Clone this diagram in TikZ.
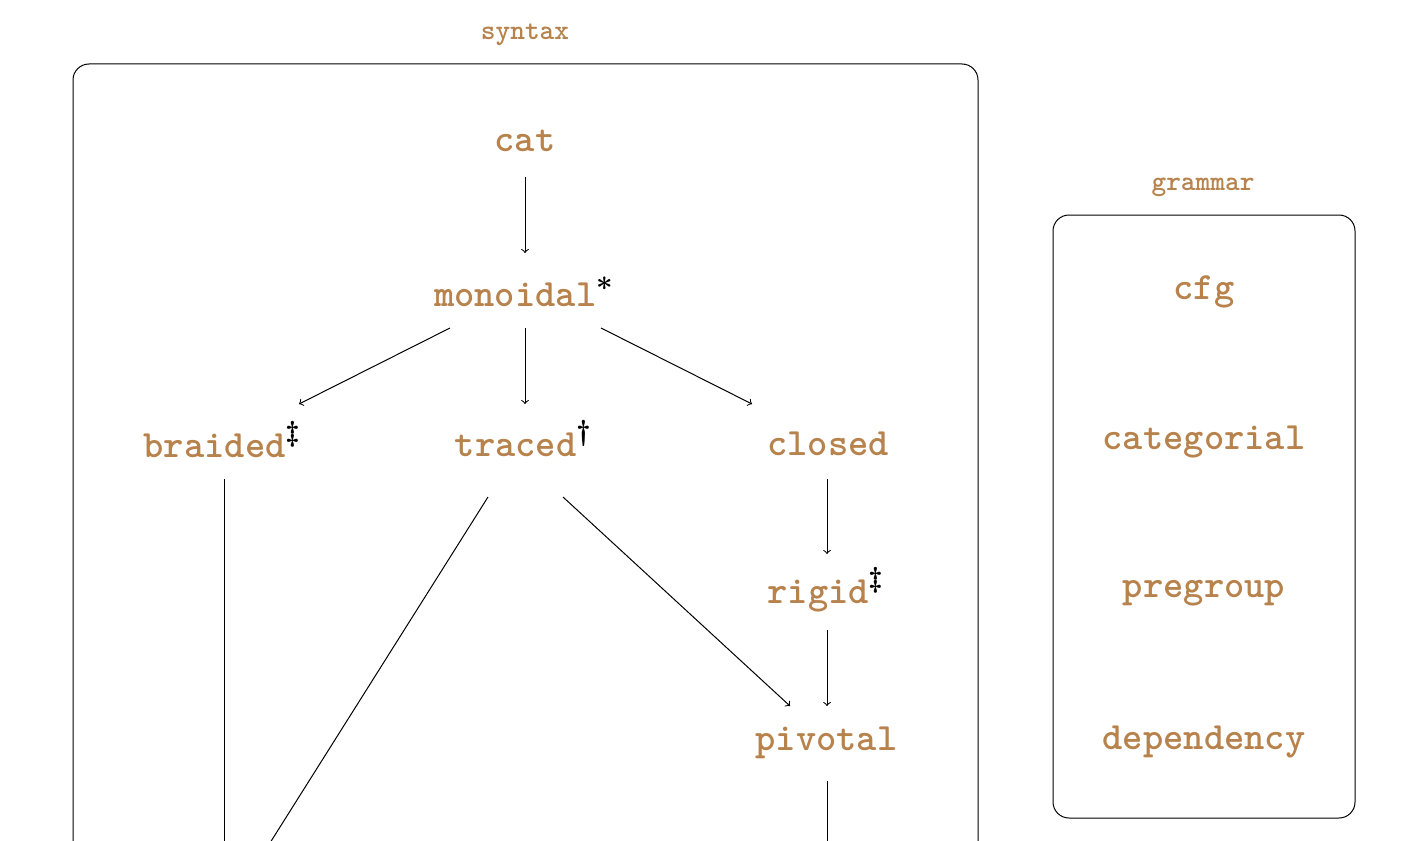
\documentclass[tikz,border=0pt]{standalone}
\usetikzlibrary{calc}
\definecolor{lbl}{RGB}{183,130,75}
\newcommand{\supmark}[1]{\textcolor{black}{\boldmath$^{#1}$}}
\begin{document}
\begin{tikzpicture}[x=0.5pt,y=-0.5pt, line width=0.5pt,
  lab/.style={font=\ttfamily\bfseries\fontsize{19.3}{23}\selectfont, text=lbl, inner sep=0pt, anchor=base},
  ttl/.style={font=\ttfamily\bfseries\fontsize{14}{17}\selectfont, text=lbl, inner sep=0pt, anchor=base},
  arr/.style={->},
  frame/.style={draw, rounded corners=8pt}]
\useasboundingbox (0,0) rectangle (1428,840);
\clip (0,0) rectangle (1428,840);
% frames
\draw[frame] (73,64) rectangle (978,900);
\draw[frame] (1053,215) rectangle (1355,818);
% titles
\node[ttl] (syntaxlbl) at (525,40) {syntax};
\node[ttl] (grammarlbl) at (1203,190) {grammar};
% syntax nodes
\node[lab] (cat) at (525,151) {cat};
\node[lab] (monoidal) at (524,306) {monoidal\supmark{*}};
\node[lab] (braided) at (222.5,457) {braided\supmark{\ddagger}};
\node[lab] (traced) at (523.5,456) {traced\supmark{\dagger}};
\node[lab] (closed) at (828,455) {closed};
\node[lab] (rigid) at (826,603) {rigid\supmark{\ddagger}};
\node[lab] (pivotal) at (826.5,750) {pivotal};
% grammar nodes
\node[lab] (cfg) at (1204,299) {cfg};
\node[lab] (categorial) at (1204,449) {categorial};
\node[lab] (pregroup) at (1204,597) {pregroup};
\node[lab] (dependency) at (1204,749) {dependency};
% free ends below the visible area
\coordinate (bdown) at (224,900);
\coordinate (tdown) at (234,900);
\coordinate (pdown) at (827,900);
% edges
\draw[arr] ($(cat.base)+(0,26)$) -- ($(monoidal.base)+(1,-53)$);
\draw[arr] ($(monoidal.base)+(-74,22)$) -- ($(braided.base)+(76.5,-53)$);
\draw[arr] ($(monoidal.base)+(1,22)$) -- ($(traced.base)+(1.5,-52)$);
\draw[arr] ($(monoidal.base)+(77,22)$) -- ($(closed.base)+(-76,-51)$);
\draw[arr] ($(closed.base)+(-1,24)$) -- ($(rigid.base)+(1,-49)$);
\draw[arr] ($(rigid.base)+(1,27)$) -- ($(pivotal.base)+(0.5,-44)$);
\draw[arr] ($(traced.base)+(39.5,41)$) -- ($(pivotal.base)+(-36.5,-44)$);
\draw[arr] ($(traced.base)+(-35.5,41)$) -- (tdown);
\draw[arr] ($(braided.base)+(1.5,22)$) -- (bdown);
\draw[arr] ($(pivotal.base)+(0.5,31)$) -- (pdown);
\end{tikzpicture}
\end{document}
